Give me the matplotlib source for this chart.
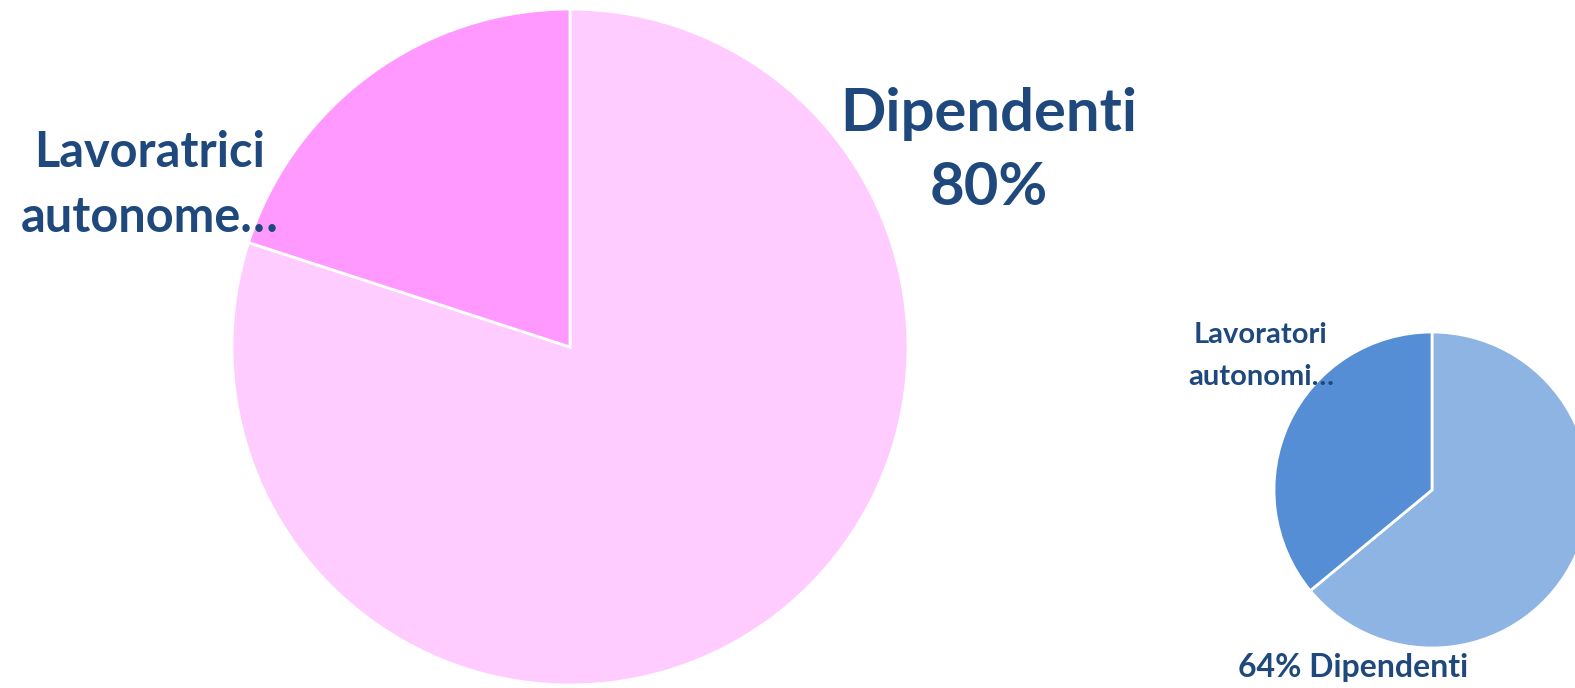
import matplotlib
matplotlib.use("Agg")
import matplotlib.pyplot as plt

# Composition of employment: women (left) and men (right)
women_categories = ["Dipendenti", "Lavoratrici autonome"]
women_values = [80, 20]
women_colors = ["#FFCCFF", "#FF99FF"]

men_categories = ["Dipendenti", "Lavoratori autonomi"]
men_values = [64, 36]
men_colors = ["#8EB4E3", "#558ED5"]

W, H = 1575, 688
LABEL_COLOR = "#1F497D"
FONT = ["Lato", "DejaVu Sans"]

fig = plt.figure(figsize=(W / 100, H / 100), dpi=100)
ax = fig.add_axes([0, 0, 1, 1])

wedge = dict(edgecolor="white", linewidth=2)
ax.pie(women_values, colors=women_colors, startangle=90, counterclock=False,
       center=(570, H - 347), radius=338, wedgeprops=wedge, frame=True)
ax.pie(men_values, colors=men_colors, startangle=90, counterclock=False,
       center=(1432, H - 490), radius=158, wedgeprops=wedge, frame=True)

ax.set_xlim(0, W)
ax.set_ylim(0, H)
ax.set_aspect("equal")
ax.axis("off")

# Data labels
ax.text(989, H - 151, f"{women_categories[0]}\n{women_values[0]}%",
        ha="center", va="center", fontsize=43, fontweight="bold",
        color=LABEL_COLOR, family=FONT, linespacing=1.46)
ax.text(150, H - 185, "Lavoratrici\nautonome…",
        ha="center", va="center", fontsize=35, fontweight="bold",
        color=LABEL_COLOR, family=FONT, linespacing=1.52)
ax.text(1261, H - 356, "Lavoratori\nautonomi…",
        ha="center", va="center", fontsize=21, fontweight="bold",
        color=LABEL_COLOR, family=FONT, linespacing=1.75)
ax.text(1353, H - 668, f"{men_values[0]}% {men_categories[0]}",
        ha="center", va="center", fontsize=23, fontweight="bold",
        color=LABEL_COLOR, family=FONT)

fig.savefig("out.png", dpi=100, facecolor="white")
